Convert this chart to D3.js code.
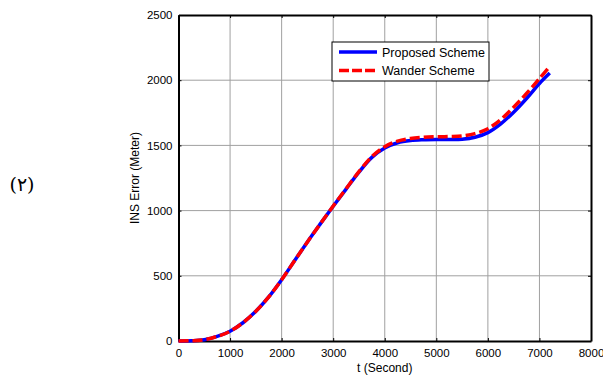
<!DOCTYPE html>
<html lang="en">
<head>
    <meta charset="UTF-8">
    <title>INS Error</title>
    <script src="https://d3js.org/d3.v7.min.js"></script>
    <style>
        body {
            margin: 0;
            padding: 0;
            background-color: #fff;
        }
        svg {
            display: block;
            font-family: "Liberation Sans", Arial, sans-serif;
        }
    </style>
</head>
<body>
    <svg id="chart" width="603" height="376"></svg>
    <script>
        const times = [0, 250, 500, 750, 1000, 1250, 1500, 1750, 2000, 2250, 2500, 2750, 3000, 3250, 3500,
            3750, 4000, 4250, 4500, 4750, 5000, 5250, 5500, 5750, 6000, 6250, 6500, 6750, 7000, 7200];
        const proposed = [0, 2, 10, 35, 75, 140, 228, 338, 470, 615, 760, 898, 1033, 1165, 1295,
            1408, 1480, 1520, 1537, 1543, 1545, 1545, 1547, 1562, 1598, 1665, 1755, 1860, 1975, 2055];
        const wander = [0, 2, 10, 35, 75, 140, 228, 338, 470, 615, 760, 898, 1035, 1168, 1299,
            1414, 1490, 1533, 1553, 1562, 1566, 1568, 1572, 1590, 1628, 1698, 1793, 1898, 2012, 2105];
        const xTicks = [0, 1000, 2000, 3000, 4000, 5000, 6000, 7000, 8000];
        const yTicks = [0, 500, 1000, 1500, 2000, 2500];
        const seriesNames = ["Proposed Scheme", "Wander Scheme"];

        const svg = d3.select("#chart");
        const margin = { top: 15, right: 12, bottom: 35, left: 178.5 };
        const W = 603, H = 376;

        const x = d3.scaleLinear().domain([0, 8000]).range([margin.left, W - margin.right]);
        const y = d3.scaleLinear().domain([0, 2500]).range([H - margin.bottom, margin.top]);

        // grid
        svg.append("g")
            .selectAll("line")
            .data(xTicks.slice(1, -1))
            .join("line")
            .attr("x1", d => x(d)).attr("x2", d => x(d))
            .attr("y1", y(0)).attr("y2", y(2500))
            .attr("stroke", "#a0a0a0").attr("stroke-width", 1);
        svg.append("g")
            .selectAll("line")
            .data(yTicks.slice(1, -1))
            .join("line")
            .attr("x1", x(0)).attr("x2", x(8000))
            .attr("y1", d => y(d)).attr("y2", d => y(d))
            .attr("stroke", "#a0a0a0").attr("stroke-width", 1);

        // axes (ticks inward)
        const fmt = d3.format("d");
        svg.append("g")
            .attr("transform", `translate(0,${y(0)})`)
            .call(d3.axisBottom(x).tickValues(xTicks).tickFormat(fmt).tickSizeInner(-3).tickSizeOuter(0).tickPadding(8));
        svg.append("g")
            .attr("transform", `translate(${x(0)},0)`)
            .call(d3.axisLeft(y).tickValues(yTicks).tickFormat(fmt).tickSizeInner(-3).tickSizeOuter(0).tickPadding(6));
        svg.append("g")
            .attr("transform", `translate(0,${y(2500)})`)
            .call(d3.axisTop(x).tickValues(xTicks).tickFormat("").tickSizeInner(-3).tickSizeOuter(0));
        svg.append("g")
            .attr("transform", `translate(${x(8000)},0)`)
            .call(d3.axisRight(y).tickValues(yTicks).tickFormat("").tickSizeInner(-3).tickSizeOuter(0));

        svg.selectAll(".domain").attr("stroke", "#000").attr("stroke-width", 2);
        svg.selectAll(".tick line").attr("stroke", "#000");
        svg.selectAll(".tick text").attr("font-size", 11.5).attr("fill", "#000")
            .attr("font-family", "'Liberation Sans', Arial, sans-serif");

        // lines
        const line = d3.line()
            .x((d, i) => x(times[i]))
            .y(d => y(d))
            .curve(d3.curveCatmullRom.alpha(0.5));

        svg.append("path")
            .datum(proposed)
            .attr("fill", "none")
            .attr("stroke", "#0000ff")
            .attr("stroke-width", 3.5)
            .attr("d", line);

        svg.append("path")
            .datum(wander)
            .attr("fill", "none")
            .attr("stroke", "#ff0000")
            .attr("stroke-width", 3.5)
            .attr("stroke-dasharray", "10,4")
            .attr("d", line);

        // legend
        const lg = svg.append("g").attr("transform", "translate(332,42)");
        lg.append("rect")
            .attr("width", 157).attr("height", 39)
            .attr("fill", "#fff").attr("stroke", "#000").attr("stroke-width", 1);
        const styles = [{ c: "#0000ff", dash: null }, { c: "#ff0000", dash: "10,3" }];
        seriesNames.forEach((name, i) => {
            const yy = 10 + i * 18.5;
            lg.append("line")
                .attr("x1", 7).attr("x2", 45).attr("y1", yy).attr("y2", yy)
                .attr("stroke", styles[i].c).attr("stroke-width", 3.5)
                .attr("stroke-dasharray", styles[i].dash);
            lg.append("text")
                .attr("x", 50).attr("y", yy + 4.5)
                .attr("font-size", 12.5)
                .text(name);
        });

        // axis labels
        svg.append("text")
            .attr("x", (x(0) + x(8000)) / 2)
            .attr("y", 372)
            .attr("text-anchor", "middle")
            .attr("font-size", 12)
            .text("t (Second)");

        svg.append("text")
            .attr("transform", `translate(139,${(y(0) + y(2500)) / 2}) rotate(-90)`)
            .attr("text-anchor", "middle")
            .attr("font-size", 12)
            .text("INS Error (Meter)");

        svg.append("text")
            .attr("x", 22)
            .attr("y", 191)
            .attr("text-anchor", "middle")
            .attr("font-size", 19)
            .attr("font-family", "'DejaVu Serif', 'DejaVu Sans', serif")
            .text("(٢)");
    </script>
</body>
</html>
